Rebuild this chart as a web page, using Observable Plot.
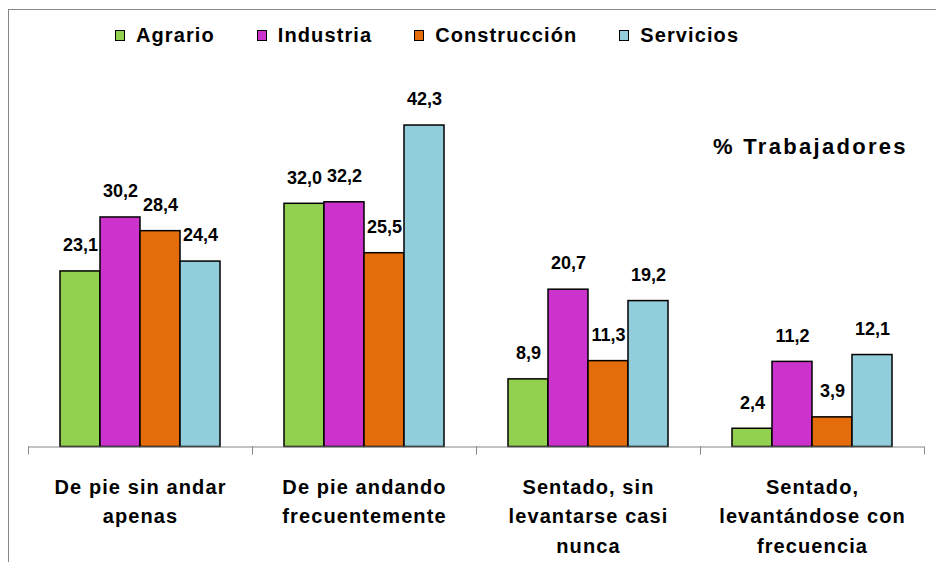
<!DOCTYPE html>
<html>
<head>
<meta charset="utf-8">
<script src="https://cdn.jsdelivr.net/npm/d3@7"></script>
<script src="https://cdn.jsdelivr.net/npm/@observablehq/plot@0.6"></script>
<style>
  html, body { margin: 0; padding: 0; background: #fff; overflow: hidden; }
  #wrap { position: relative; width: 936px; height: 562px; overflow: hidden;
          font-family: "Liberation Sans", Arial, sans-serif; color: #000; }
  #border { position: absolute; left: 8px; top: 9px; width: 2000px; height: 2000px;
            border-left: 1px solid #888; border-top: 1px solid #888; }
  #chart { position: absolute; left: 0; top: 0; }
  #legend { position: absolute; left: 115px; top: 25px; display: flex; gap: 42px;
            font-size: 20px; font-weight: bold; letter-spacing: 1.1px; line-height: 20px; white-space: nowrap; }
  .item { display: flex; align-items: center; }
  .sw { display: inline-block; flex: 0 0 10px; box-sizing: border-box; width: 10px; min-width: 10px; height: 11px;
        border: 1.5px solid #000; margin-right: 11px; }
  #unit { position: absolute; left: 713px; top: 136px; font-size: 22px; font-weight: bold;
          letter-spacing: 2.3px; line-height: 22px; white-space: nowrap; }
  g[aria-label="valores"] text { letter-spacing: 1.6px; }
  g[aria-label="fx-axis tick label"] text { letter-spacing: 1.1px; }
</style>
</head>
<body>
<div id="wrap">
  <div id="border"></div>
  <div id="chart"></div>
  <div id="legend"></div>
  <div id="unit"></div>
</div>
<script>
// ---- data ----
const categories = [
  "De pie sin andar\napenas",
  "De pie andando\nfrecuentemente",
  "Sentado, sin\nlevantarse casi\nnunca",
  "Sentado,\nlevantándose con\nfrecuencia"
];
const series = ["Agrario", "Industria", "Construcción", "Servicios"];
const agrario      = [23.1, 32.0,  8.9,  2.4];
const industria    = [30.2, 32.2, 20.7, 11.2];
const construccion = [28.4, 25.5, 11.3,  3.9];
const servicios    = [24.4, 42.3, 19.2, 12.1];
const colors = ["#92D050", "#CC33CC", "#E46C0A", "#92CDDC"];
const unitLabel = "% Trabajadores";

// ---- build table ----
const seriesValues = [agrario, industria, construccion, servicios];
const data = categories.flatMap((c, i) =>
  series.map((s, j) => ({categoria: c, serie: s, valor: seriesValues[j][i]})));
const fmt = v => d3.format(".1f")(v).replace(".", ",");

// ---- layout ----
const W = 936, H = 562, mt = 104.5, mb = 108.5, tickLen = 7;
const axisGray = "#888";

const chart = Plot.plot({
  width: W, height: H,
  marginTop: mt, marginBottom: mb, marginLeft: 28, marginRight: 12,
  style: {background: "transparent", fontFamily: "Liberation Sans, Arial, sans-serif", color: "#000", overflow: "visible"},
  fx: {domain: categories, padding: 0, label: null},
  x: {domain: series, paddingInner: 0, paddingOuter: 0.78, axis: null},
  y: {domain: [0, 45], axis: null, insetBottom: tickLen},
  color: {domain: series, range: colors},
  marks: [
    Plot.frame({anchor: "left", stroke: axisGray, insetTop: H - mt - mb - tickLen}),
    Plot.frame({anchor: "right", stroke: axisGray, insetTop: H - mt - mb - tickLen}),
    Plot.barY(data, {fx: "categoria", x: "serie", y: "valor", fill: "serie", stroke: "#000", strokeWidth: 1.5}),
    Plot.ruleY([0], {stroke: axisGray, strokeWidth: 1.2}),
    Plot.text(data, {fx: "categoria", x: "serie", y: "valor", text: d => fmt(d.valor),
      dy: -26, lineAnchor: "middle", fontSize: 18, fontWeight: "bold", fill: "#000", ariaLabel: "valores"}),
    Plot.axisFx({anchor: "bottom", tickSize: 0, tickPadding: 19, fontSize: 20, fontWeight: "bold",
      lineHeight: 1.475, label: null, fill: "#000"})
  ]
});
document.getElementById("chart").append(chart);

// ---- legend ----
const legend = document.getElementById("legend");
series.forEach((s, i) => {
  const item = document.createElement("div");
  item.className = "item";
  const sw = document.createElement("span");
  sw.className = "sw";
  sw.style.background = colors[i];
  const t = document.createElement("span");
  t.textContent = s;
  item.append(sw, t);
  legend.append(item);
});
document.getElementById("unit").textContent = unitLabel;
</script>
</body>
</html>
